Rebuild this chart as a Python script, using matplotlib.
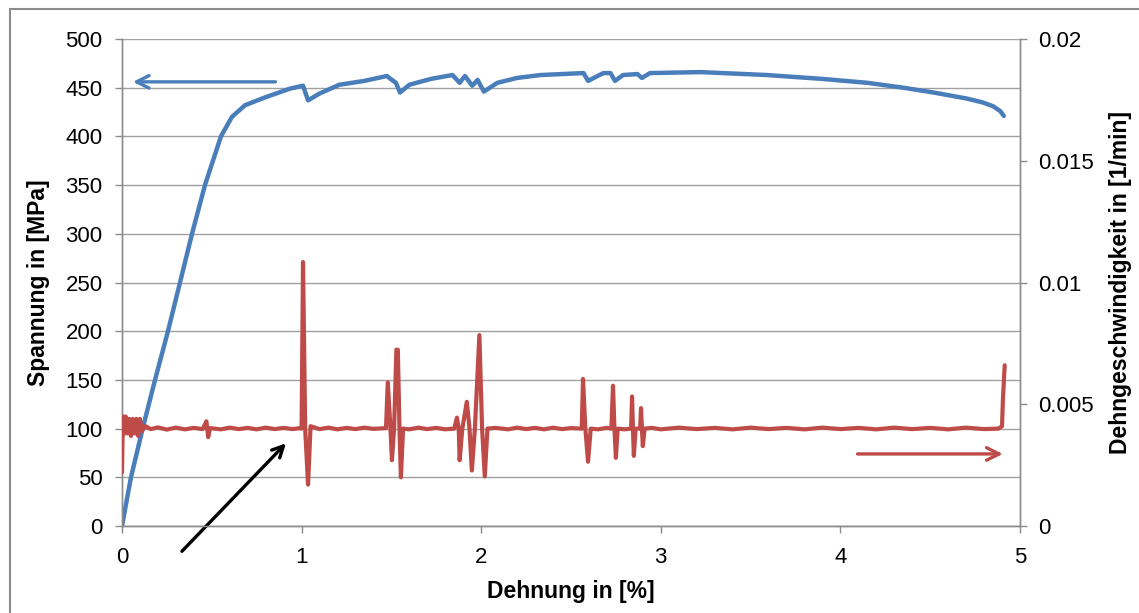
import matplotlib
matplotlib.use('Agg')
import matplotlib.pyplot as plt
from matplotlib.patches import Rectangle

plt.rcParams['font.family'] = ['Liberation Sans', 'DejaVu Sans']

# stress-strain curve (left axis)
strain = [0.0, 0.05, 0.115, 0.184, 0.256, 0.323, 0.39, 0.462, 0.551, 0.612, 0.685, 0.796,
          0.935, 1.008, 1.036, 1.10, 1.21, 1.35, 1.475, 1.503, 1.525, 1.548, 1.60, 1.72,
          1.84, 1.88, 1.91, 1.95, 1.98, 2.015, 2.09, 2.20, 2.33, 2.57, 2.595, 2.68,
          2.72, 2.745, 2.79, 2.87, 2.895, 2.94, 3.22, 3.59, 3.90, 4.15, 4.35, 4.52,
          4.70, 4.79, 4.85, 4.89, 4.91]
stress = [0, 50, 100, 150, 200, 250, 300, 350, 400, 420, 432, 440,
          449, 452, 437, 444, 453, 457, 462, 458, 455, 445, 453, 459,
          463, 455, 462, 452, 458, 446, 455, 460, 463, 465, 457, 465,
          465, 457, 463, 464, 460, 465, 466, 463, 459, 455, 450, 445,
          439, 435, 431, 426, 421]

# strain rate (right axis), (strain %, rate 1/min)
rate_points = [
    (0.0, 0.0022), (0.005, 0.0045), (0.01, 0.0038), (0.02, 0.0045), (0.03, 0.0038),
    (0.04, 0.0044), (0.05, 0.0037), (0.06, 0.0044), (0.07, 0.0038), (0.08, 0.0044),
    (0.09, 0.0037), (0.10, 0.0044), (0.11, 0.0039), (0.13, 0.0041), (0.16, 0.00398),
    (0.20, 0.00405), (0.25, 0.00396), (0.30, 0.00404), (0.35, 0.00397), (0.40, 0.00403),
    (0.45, 0.00398), (0.47, 0.0043), (0.48, 0.00365), (0.49, 0.00402), (0.55, 0.00397),
    (0.60, 0.00404), (0.65, 0.00398), (0.70, 0.00403), (0.75, 0.00397), (0.80, 0.00404),
    (0.85, 0.00398), (0.90, 0.00403), (0.95, 0.00398), (0.99, 0.00402), (1.00, 0.0040),
    (1.008, 0.01084), (1.02, 0.0040), (1.036, 0.0017), (1.05, 0.0041), (1.10, 0.00398),
    (1.15, 0.00404), (1.20, 0.00397), (1.25, 0.00403), (1.30, 0.00398), (1.35, 0.00404),
    (1.40, 0.00399), (1.47, 0.00402), (1.48, 0.0059), (1.495, 0.0040), (1.503, 0.0027),
    (1.515, 0.0040), (1.528, 0.00724), (1.536, 0.00724), (1.545, 0.0040), (1.553, 0.0020),
    (1.565, 0.0040), (1.60, 0.00397), (1.65, 0.00404), (1.70, 0.00398), (1.75, 0.00403),
    (1.80, 0.00397), (1.85, 0.0040), (1.865, 0.00445), (1.875, 0.0040), (1.88, 0.0027),
    (1.895, 0.0040), (1.92, 0.0051), (1.935, 0.0040), (1.948, 0.00228), (1.965, 0.0040),
    (1.99, 0.00784), (2.005, 0.0040), (2.02, 0.00204), (2.035, 0.0040), (2.08, 0.00403),
    (2.15, 0.00397), (2.20, 0.00404), (2.25, 0.00398), (2.30, 0.00403), (2.35, 0.00397),
    (2.40, 0.00404), (2.45, 0.00398), (2.50, 0.00402), (2.56, 0.0040), (2.567, 0.00604),
    (2.58, 0.0040), (2.595, 0.00264), (2.61, 0.0040), (2.65, 0.00397), (2.70, 0.00403),
    (2.725, 0.0040), (2.734, 0.00576), (2.742, 0.0040), (2.75, 0.0028), (2.76, 0.0040),
    (2.80, 0.00397), (2.835, 0.0040), (2.84, 0.00532), (2.845, 0.0040), (2.85, 0.00288),
    (2.86, 0.0040), (2.885, 0.0040), (2.89, 0.00484), (2.895, 0.0040), (2.90, 0.00328),
    (2.91, 0.0040), (2.95, 0.00403), (3.00, 0.00397), (3.10, 0.00404), (3.20, 0.00398),
    (3.30, 0.00403), (3.40, 0.00397), (3.50, 0.00404), (3.60, 0.00398), (3.70, 0.00403),
    (3.80, 0.00397), (3.90, 0.00404), (4.00, 0.00398), (4.10, 0.00403), (4.20, 0.00397),
    (4.30, 0.00404), (4.40, 0.00398), (4.50, 0.00403), (4.60, 0.00397), (4.70, 0.00404),
    (4.80, 0.00398), (4.88, 0.0040), (4.90, 0.0041), (4.905, 0.0052), (4.915, 0.0066),
]
rate_x = [p[0] for p in rate_points]
rate_y = [p[1] for p in rate_points]

blue = '#4a7ebb'
red = '#be4b48'
grey = '#8c8c8c'

fig = plt.figure(figsize=(11.39, 6.13), dpi=100)
ax = fig.add_axes([0.1071, 0.1419, 0.7884, 0.7945])
ax2 = ax.twinx()

ax.plot(strain, stress, color=blue, lw=3.2, solid_capstyle='round',
        solid_joinstyle='round', zorder=3)
ax2.plot(rate_x, rate_y, color=red, lw=3.0, solid_capstyle='round',
         solid_joinstyle='round', zorder=3)

ax.set_xlim(0, 5)
ax.set_ylim(0, 500)
ax2.set_ylim(0, 0.02)
ax.set_yticks(range(0, 501, 50))
ax.set_xticks([0, 1, 2, 3, 4, 5])
ax2.set_yticks([0, 0.005, 0.01, 0.015, 0.02])
ax2.set_yticklabels(['0', '0.005', '0.01', '0.015', '0.02'])

ax.grid(axis='y', color='#a0a0a0', lw=1)
ax.set_axisbelow(True)
for a in (ax, ax2):
    a.spines['top'].set_visible(False)
    for s in ('left', 'right', 'bottom'):
        a.spines[s].set_color(grey)
        a.spines[s].set_linewidth(1)
    a.tick_params(colors=grey, labelcolor='black', labelsize=16, length=5, width=1)
ax.tick_params(axis='y', pad=9)
ax.tick_params(axis='x', pad=10)
ax2.tick_params(axis='y', pad=8)

ax.set_xlabel('Dehnung in [%]', fontsize=16.5, fontweight='bold', labelpad=9)
ax.set_ylabel('Spannung in [MPa]', fontsize=16.5, fontweight='bold', labelpad=11)
ax2.set_ylabel('Dehngeschwindigkeit in [1/min]', fontsize=16.5, fontweight='bold', labelpad=11)

# arrows
ax.annotate('', xy=(0.045, 456), xytext=(0.87, 456),
            arrowprops=dict(arrowstyle='->,head_length=0.9,head_width=0.45', color=blue, lw=2.4))
ax.annotate('', xy=(4.92, 74), xytext=(4.08, 74),
            arrowprops=dict(arrowstyle='->,head_length=0.9,head_width=0.45', color=red, lw=2.4))
ax.annotate('', xy=(0.924, 87), xytext=(0.323, -28), annotation_clip=False,
            arrowprops=dict(arrowstyle='->,head_length=0.8,head_width=0.4', color='black', lw=2.4))

# outer frame
fig.patches.append(Rectangle((10 / 1139, -0.01), 1.02, 1 - 9 / 613 + 0.01,
                             transform=fig.transFigure, fill=False,
                             edgecolor=grey, lw=1.5))

fig.savefig('out.png', dpi=100)
